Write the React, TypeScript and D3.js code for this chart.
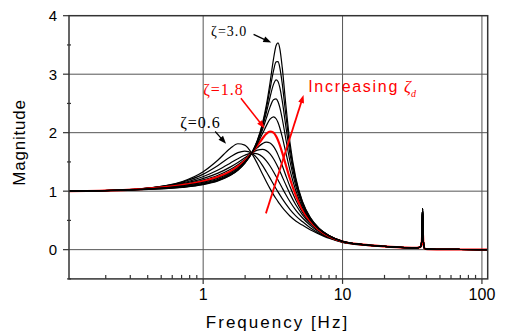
import React from "react";
import * as d3 from "d3";

const FREQ = [0.109, 0.18, 0.355, 0.71, 0.994, 1.278, 1.562, 1.775, 1.988, 2.237, 2.45, 2.663, 2.84, 3.018, 3.195, 3.337, 3.444, 3.55, 3.692, 3.905, 4.189, 4.615, 5.148, 5.858, 6.745, 7.988, 10.0, 14, 20, 28, 34, 36.2, 37.0, 37.5, 38.0, 38.8, 40.5, 50, 70, 110];

const ZETA = [0.6, 0.84, 1.08, 1.32, 1.56, 1.8, 2.04, 2.28, 2.52, 2.76, 3.0];

const MAG_Z060 = [1.0, 1.008, 1.041, 1.166, 1.328, 1.533, 1.731, 1.811, 1.788, 1.643, 1.469, 1.294, 1.161, 1.043, 0.941, 0.87, 0.821, 0.777, 0.723, 0.653, 0.575, 0.49, 0.42, 0.34, 0.27, 0.195, 0.125, 0.078, 0.055, 0.035, 0.03, 0.045, 0.15, 0.7, 0.15, 0.02, 0.008, 0.005, 0.003, 0.001];
const MAG_Z084 = [1.0, 1.008, 1.039, 1.154, 1.287, 1.44, 1.583, 1.658, 1.686, 1.647, 1.559, 1.44, 1.331, 1.2225, 1.119, 1.041, 0.987, 0.936, 0.872, 0.787, 0.69, 0.578, 0.48, 0.375, 0.285, 0.205, 0.13, 0.082, 0.055, 0.035, 0.03, 0.045, 0.15, 0.7, 0.15, 0.02, 0.008, 0.005, 0.003, 0.001];
const MAG_Z108 = [1.0, 1.007, 1.038, 1.141, 1.2475, 1.363, 1.478, 1.555, 1.615, 1.65, 1.639, 1.589, 1.518, 1.43, 1.332, 1.25, 1.1895, 1.13, 1.054, 0.9475, 0.823, 0.676, 0.545, 0.415, 0.305, 0.213, 0.134, 0.084, 0.055, 0.035, 0.03, 0.045, 0.15, 0.7, 0.15, 0.02, 0.008, 0.005, 0.003, 0.001];
const MAG_Z132 = [1.0, 1.007, 1.037, 1.1275, 1.2146, 1.309, 1.411, 1.4906, 1.57, 1.652, 1.701, 1.715, 1.693, 1.6375, 1.554, 1.473, 1.407, 1.339, 1.2475, 1.116, 0.958, 0.767, 0.6, 0.445, 0.321, 0.22, 0.136, 0.085, 0.055, 0.035, 0.03, 0.045, 0.15, 0.7, 0.15, 0.02, 0.008, 0.005, 0.003, 0.001];
const MAG_Z156 = [1.0, 1.007, 1.036, 1.116, 1.19, 1.273, 1.369, 1.4514, 1.542, 1.653, 1.744, 1.813, 1.839, 1.824, 1.765, 1.69, 1.6205, 1.545, 1.4376, 1.2775, 1.083, 0.849, 0.642, 0.465, 0.331, 0.2244, 0.137, 0.085, 0.055, 0.035, 0.03, 0.045, 0.15, 0.7, 0.15, 0.02, 0.008, 0.005, 0.003, 0.001];
const MAG_Z180 = [1.0, 1.007, 1.035, 1.1046, 1.169, 1.2444, 1.337, 1.4217, 1.5204, 1.654, 1.78, 1.901, 1.981, 2.02, 2.0, 1.939, 1.869, 1.785, 1.658, 1.46, 1.216, 0.93, 0.6875, 0.488, 0.343, 0.2295, 0.139, 0.085, 0.055, 0.035, 0.03, 0.045, 0.12, 0.36, 0.12, 0.02, 0.008, 0.005, 0.003, 0.001];
const MAG_Z204 = [1.0, 1.007, 1.033, 1.093, 1.15, 1.2207, 1.312, 1.3984, 1.504, 1.655, 1.811, 1.982, 2.121, 2.23, 2.271, 2.238, 2.174, 2.08, 1.927, 1.675, 1.364, 1.013, 0.73, 0.508, 0.352, 0.2336, 0.14, 0.085, 0.055, 0.035, 0.03, 0.045, 0.15, 0.7, 0.15, 0.02, 0.008, 0.005, 0.003, 0.001];
const MAG_Z228 = [1.0, 1.007, 1.031, 1.083, 1.135, 1.2025, 1.293, 1.381, 1.4914, 1.655, 1.835, 2.05, 2.248, 2.437, 2.563, 2.578, 2.527, 2.427, 2.238, 1.912, 1.516, 1.09, 0.767, 0.525, 0.36, 0.2368, 0.141, 0.085, 0.055, 0.035, 0.03, 0.045, 0.15, 0.7, 0.15, 0.02, 0.008, 0.005, 0.003, 0.001];
const MAG_Z252 = [1.0, 1.006, 1.029, 1.0755, 1.1243, 1.1905, 1.281, 1.37, 1.4835, 1.656, 1.851, 2.097, 2.343, 2.606, 2.826, 2.904, 2.875, 2.771, 2.543, 2.133, 1.645, 1.15, 0.794, 0.537, 0.365, 0.2389, 0.1415, 0.085, 0.055, 0.035, 0.03, 0.045, 0.15, 0.7, 0.15, 0.02, 0.008, 0.005, 0.003, 0.001];
const MAG_Z276 = [1.0, 1.006, 1.027, 1.0698, 1.117, 1.182, 1.2724, 1.3624, 1.478, 1.656, 1.862, 2.132, 2.416, 2.743, 3.058, 3.211, 3.214, 3.109, 2.839, 2.333, 1.754, 1.197, 0.814, 0.545, 0.3685, 0.2404, 0.142, 0.085, 0.055, 0.035, 0.03, 0.045, 0.15, 0.7, 0.15, 0.02, 0.008, 0.005, 0.003, 0.001];
const MAG_Z300 = [1.0, 1.006, 1.025, 1.0655, 1.1115, 1.1763, 1.2667, 1.357, 1.474, 1.657, 1.87, 2.157, 2.47, 2.853, 3.258, 3.491, 3.535, 3.433, 3.116, 2.511, 1.844, 1.2326, 0.829, 0.551, 0.371, 0.2414, 0.142, 0.085, 0.055, 0.035, 0.03, 0.045, 0.15, 0.7, 0.15, 0.02, 0.008, 0.005, 0.003, 0.001];

const SERIES = [MAG_Z060, MAG_Z084, MAG_Z108, MAG_Z132, MAG_Z156, MAG_Z180, MAG_Z204, MAG_Z228, MAG_Z252, MAG_Z276, MAG_Z300];
const HIGHLIGHT_ZETA = 1.8;

const Y_TICKS = [0, 1, 2, 3, 4];
const Y_MINOR = [-0.5, 0.5, 1.5, 2.5, 3.5];
const X_TICKS = [1, 10, 100];
const X_LABELS = ["1", "10", "100"];
const X_MINOR = [0.2, 0.3, 0.4, 0.5, 0.6, 0.7, 0.8, 0.9, 2, 3, 4, 5, 6, 7, 8, 9, 20, 30, 40, 50, 60, 70, 80, 90];

// annotations in data coordinates [freq, magnitude]
const LABELS = [
  { text: "ζ=3.0", at: [1.14, 3.65], color: "#000", size: 14 },
  { text: "ζ=1.8", at: [1.0, 2.64], color: "#ff0000", size: 16 },
  { text: "ζ=0.6", at: [0.684, 2.08], color: "#000", size: 16 },
];
const ARROWS = [
  { from: [2.3, 3.68], to: [3.08, 3.54], color: "#000", w: 1.2 },
  { from: [1.865, 2.59], to: [2.754, 2.075], color: "#ff0000", w: 1.5 },
  { from: [1.22, 2.02], to: [1.46, 1.81], color: "#000", w: 1.2 },
  { from: [2.82, 0.62], to: [5.25, 2.645], color: "#ff0000", w: 1.8 },
];
const INC_AT = [5.67, 2.7];

export default function App() {
  const W = 507, H = 331;
  const x = d3.scaleLog().domain([0.109, 110]).range([69, 487.7]);
  const y = d3.scaleLinear().domain([-0.5, 4]).range([278.9, 15.7]);
  const line = d3
    .line<number>()
    .x((_, i) => x(FREQ[i]))
    .y((d) => y(d))
    .curve(d3.curveMonotoneX);

  const sans = "'Liberation Sans', Arial, sans-serif";
  const serif = "'Liberation Serif', 'Times New Roman', serif";
  const gridColor = "#555";
  const axisColor = "#333";
  const x0 = x.range()[0], x1 = x.range()[1];
  const yTop = y(4), yBot = y(-0.5);

  const arrowHead = (a: any) => {
    const fx = x(a.from[0]), fy = y(a.from[1]);
    const tx = x(a.to[0]), ty = y(a.to[1]);
    const ang = Math.atan2(ty - fy, tx - fx);
    const L = 8, hw = 3;
    const bx = tx - L * Math.cos(ang), by = ty - L * Math.sin(ang);
    const px = -Math.sin(ang) * hw, py = Math.cos(ang) * hw;
    return {
      line: [fx, fy, bx + 2 * Math.cos(ang), by + 2 * Math.sin(ang)],
      pts: `${tx},${ty} ${bx + px},${by + py} ${bx - px},${by - py}`,
    };
  };

  return (
    <svg width={W} height={H} style={{ position: "absolute", left: 0, top: 0, background: "#fff" }}>
      <rect x={0} y={0} width={W} height={H} fill="#fff" />
      {[0, 1, 2, 3].map((v) => (
        <line key={"gy" + v} x1={x0} x2={x1} y1={y(v)} y2={y(v)} stroke={gridColor} strokeWidth={1} />
      ))}
      {X_TICKS.map((f) => (
        <line key={"gx" + f} x1={x(f)} x2={x(f)} y1={yTop} y2={yBot} stroke={gridColor} strokeWidth={1} />
      ))}
      {SERIES.map((s, i) => {
        const red = ZETA[i] === HIGHLIGHT_ZETA;
        return (
          <path
            key={"c" + i}
            d={line(s) || ""}
            fill="none"
            stroke={red ? "#ff0000" : "#000"}
            strokeWidth={red ? 2.2 : 1.2}
            strokeLinejoin="round"
          />
        );
      })}
      <rect x={x0} y={yTop} width={x1 - x0} height={yBot - yTop} fill="none" stroke={axisColor} strokeWidth={1.5} />
      {Y_TICKS.map((v) => (
        <g key={"yt" + v}>
          <line x1={x0 - 6} x2={x0} y1={y(v)} y2={y(v)} stroke={axisColor} strokeWidth={1.2} />
          <text x={57} y={y(v) + 5.5} textAnchor="end" fontFamily={sans} fontSize={15} fill="#000">
            {v}
          </text>
        </g>
      ))}
      {Y_MINOR.map((v) => (
        <line key={"ym" + v} x1={x0 - 2} x2={x0 + 2} y1={y(v)} y2={y(v)} stroke={axisColor} strokeWidth={1.2} />
      ))}
      {X_TICKS.map((f, i) => (
        <g key={"xt" + f}>
          <line x1={x(f)} x2={x(f)} y1={yBot} y2={yBot + 5} stroke={axisColor} strokeWidth={1.2} />
          <text x={x(f)} y={300} textAnchor="middle" fontFamily={sans} fontSize={16} fill="#000">
            {X_LABELS[i]}
          </text>
        </g>
      ))}
      {X_MINOR.map((f) => (
        <line key={"xm" + f} x1={x(f)} x2={x(f)} y1={yBot} y2={yBot - 4} stroke={axisColor} strokeWidth={1.2} />
      ))}
      <text x={277.5} y={328} textAnchor="middle" fontFamily={sans} fontSize={17} letterSpacing={2} fill="#000">
        Frequency [Hz]
      </text>
      <text
        transform={`translate(25,142.5) rotate(-90)`}
        textAnchor="middle"
        fontFamily={sans}
        fontSize={17}
        letterSpacing={0.8}
        fill="#000"
      >
        Magnitude
      </text>
      {LABELS.map((l) => (
        <text key={l.text} x={x(l.at[0])} y={y(l.at[1])} fontFamily={serif} fontSize={l.size} letterSpacing={1} fill={l.color}>
          {l.text}
        </text>
      ))}
      {ARROWS.map((a, i) => {
        const h = arrowHead(a);
        return (
          <g key={"a" + i}>
            <line x1={h.line[0]} y1={h.line[1]} x2={h.line[2]} y2={h.line[3]} stroke={a.color} strokeWidth={a.w} />
            <polygon points={h.pts} fill={a.color} />
          </g>
        );
      })}
      <text x={x(INC_AT[0])} y={y(INC_AT[1])} fill="#ff0000">
        <tspan fontFamily={sans} fontSize={16} letterSpacing={1.7}>Increasing</tspan>
        <tspan dx={5} fontFamily={serif} fontStyle="italic" fontSize={17}>ζ</tspan>
        <tspan dy={5} fontFamily={serif} fontStyle="italic" fontSize={10}>d</tspan>
      </text>
    </svg>
  );
}
